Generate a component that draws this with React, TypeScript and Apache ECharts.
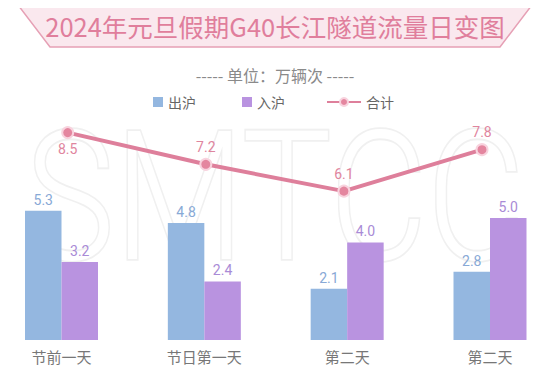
import React, { useEffect, useRef } from "react";
import * as echarts from "echarts";

const categories = ["节前一天", "节日第一天", "第二天", "第二天"];
const outValues = [5.3, 4.8, 2.1, 2.8];
const inValues = [3.2, 2.4, 4.0, 5.0];
const totalValues = [8.5, 7.2, 6.1, 7.8];
const seriesNames = ["出沪", "入沪", "合计"];
const titleText = "2024年元旦假期G40长江隧道流量日变图";
const subtitleText = "----- 单位：万辆次 -----";
const watermarkText = "SMTCC";

const FONT = "'Noto Sans CJK SC', 'Noto Sans', sans-serif";
const NUM_FONT = "Roboto, 'Noto Sans', sans-serif";
const FRAME = "#e8a2b6";

export default function App() {
  const ref = useRef<HTMLDivElement>(null);
  useEffect(() => {
    if (!ref.current) return;
    const chart = echarts.init(ref.current, null, { renderer: "svg" });
    chart.setOption({
      animation: false,
      backgroundColor: "#ffffff",
      graphic: [
        {
          type: "text",
          x: 275,
          y: 197,
          scaleY: 1.2,
          z: 0,
          silent: true,
          style: {
            text: watermarkText,
            fontSize: 150,
            fontFamily: "Roboto, sans-serif",
            fontWeight: 300,
            fill: "#ffffff",
            stroke: "#f0f0f0",
            lineWidth: 3,
            align: "center",
            verticalAlign: "middle",
          },
        },
        {
          type: "polyline",
          z: 5,
          silent: true,
          shape: { points: [[2.5, 0], [2.5, 387.5], [547.5, 387.5], [547.5, 0]] },
          style: { stroke: FRAME, lineWidth: 4, fill: null },
        },
        {
          type: "polygon",
          z: 2,
          silent: true,
          shape: { points: [[15, 1], [535, 1], [500, 47], [50, 47]] },
          style: { fill: "#fae8ee", stroke: "#e6a0b5", lineWidth: 1.5 },
        },
        {
          type: "text",
          x: 275,
          y: 25,
          z: 3,
          silent: true,
          style: {
            text: titleText,
            fontSize: 25.5,
            fontWeight: 400,
            fontFamily: FONT,
            fill: "#e07e9c",
            align: "center",
            verticalAlign: "middle",
          },
        },
        {
          type: "text",
          x: 275,
          y: 75,
          z: 3,
          silent: true,
          style: {
            text: subtitleText,
            fontSize: 16,
            fontFamily: FONT,
            fill: "#8a8a8a",
            align: "center",
            verticalAlign: "middle",
          },
        },
      ],
      legend: [
        {
          data: [seriesNames[0], seriesNames[1]],
          left: 153,
          top: 95,
          padding: 0,
          itemWidth: 10,
          itemHeight: 10,
          itemGap: 46,
          itemTextGap: 8,
          icon: "rect",
          textStyle: { fontSize: 14, color: "#666", fontFamily: FONT },
        },
        {
          data: [seriesNames[2]],
          left: 326,
          top: 95,
          padding: 0,
          itemWidth: 34,
          itemHeight: 10,
          itemTextGap: 10,
          textStyle: { fontSize: 14, color: "#666", fontFamily: FONT },
        },
      ],
      grid: [
        { left: 61.5, right: 60, top: 96, bottom: 51 },
        { left: 67.7, right: 68, top: 96, bottom: 51 },
      ],
      xAxis: [
        {
          type: "category",
          gridIndex: 0,
          data: categories,
          boundaryGap: false,
          axisLine: { show: false },
          axisTick: { show: false },
          axisLabel: { margin: 9, fontSize: 15, color: "#777", fontFamily: FONT },
        },
        {
          type: "category",
          gridIndex: 1,
          data: categories,
          boundaryGap: false,
          show: false,
        },
      ],
      yAxis: [
        { type: "value", gridIndex: 0, min: 0, max: 10, show: false },
        { type: "value", gridIndex: 1, min: 0, max: 10, show: false },
      ],
      series: [
        {
          name: seriesNames[0],
          type: "bar",
          xAxisIndex: 0,
          yAxisIndex: 0,
          data: outValues,
          barWidth: 36.5,
          barGap: "0%",
          z: 3,
          itemStyle: { color: "#94b7e0" },
          label: {
            show: true,
            position: "top",
            distance: 4,
            formatter: (p: any) => p.value.toFixed(1),
            fontSize: 14,
            color: "#88a9d6",
            fontFamily: NUM_FONT,
          },
        },
        {
          name: seriesNames[1],
          type: "bar",
          xAxisIndex: 0,
          yAxisIndex: 0,
          data: inValues,
          barWidth: 36.5,
          barGap: "0%",
          z: 3,
          itemStyle: { color: "#b993e0" },
          label: {
            show: true,
            position: "top",
            distance: 4,
            formatter: (p: any) => p.value.toFixed(1),
            fontSize: 14,
            color: "#a98bd6",
            fontFamily: NUM_FONT,
          },
        },
        {
          name: seriesNames[2],
          type: "line",
          xAxisIndex: 1,
          yAxisIndex: 1,
          z: 4,
          data: totalValues.map((v, i) =>
            i === 0
              ? { value: v, label: { position: "bottom", distance: 3 } }
              : { value: v }
          ),
          symbol: "circle",
          symbolSize: 11,
          lineStyle: { color: "#de7f9b", width: 4 },
          itemStyle: { color: "#e4869f", borderColor: "#f8d3de", borderWidth: 2 },
          label: {
            show: true,
            position: "top",
            distance: 4,
            formatter: (p: any) => p.value.toFixed(1),
            fontSize: 14,
            color: "#df859e",
            fontFamily: NUM_FONT,
          },
        },
      ],
    });
    return () => chart.dispose();
  }, []);
  return <div ref={ref} style={{ width: 550, height: 391, margin: -8 }} />;
}
